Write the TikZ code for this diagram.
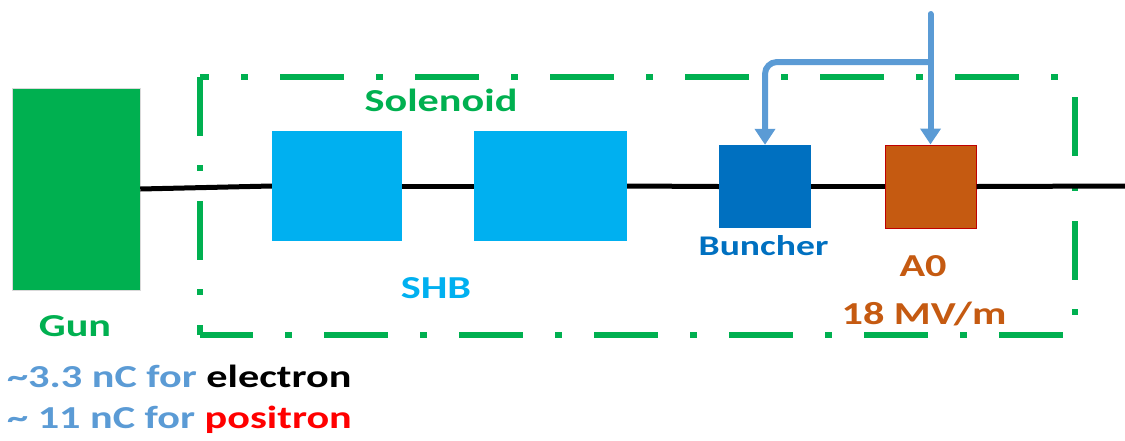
\documentclass[tikz,border=0pt]{standalone}
\usepackage{fontspec}
\setmainfont{Carlito}[FakeStretch=1.32]
\usetikzlibrary{arrows.meta,positioning}
\definecolor{gungreen}{RGB}{0,176,80}
\definecolor{shbblue}{RGB}{0,176,240}
\definecolor{bunblue}{RGB}{0,112,192}
\definecolor{aorange}{RGB}{197,90,17}
\definecolor{adark}{RGB}{192,0,0}
\definecolor{rfblue}{RGB}{91,155,213}
\definecolor{posred}{RGB}{255,0,0}

\tikzset{
  cavity/.style={draw=none,minimum width=#1,inner sep=0pt},
  lbl/.style={font=\fontsize{32}{36}\selectfont\bfseries},
  beam/.style={black,line width=5pt},
  hdash/.style={gungreen,line width=6pt,dash pattern=on 64pt off 32pt on 7pt off 32pt,dash phase=#1},
  vdash/.style={gungreen,line width=6pt,dash pattern=on 59pt off 29pt on 6pt off 30pt,dash phase=#1},
  feed/.style={rfblue,line width=6pt,line cap=round,-{Triangle[width=20pt,length=16pt]}}
}

\begin{document}
\begin{tikzpicture}[x=1pt,y=-1pt]
  \useasboundingbox (0,0) rectangle (1125,440);

  % solenoid region, one edge at a time
  \coordinate (tl) at (200,77);
  \coordinate (tr) at (1075,77);
  \coordinate (bl) at (200,335);
  \coordinate (br) at (1075,335);
  \draw[hdash=55pt] (tl) -- (tr);
  \draw[hdash=11pt] (bl) -- (br);
  \draw[vdash=0pt] (tl) -- (bl);
  \draw[vdash=104pt] (tr) -- (br);

  % beam line elements
  \node[cavity=128pt,minimum height=202pt,fill=gungreen,draw=gray!30,line width=0.5pt] (gun) at (76,189) {};
  \node[cavity=130pt,minimum height=110pt,fill=shbblue] (shb1) at (337,186) {};
  \node[cavity=153pt,minimum height=110pt,fill=shbblue] (shb2) at (550.5,186) {};
  \node[cavity=92pt,minimum height=83pt,fill=bunblue] (buncher) at (765,186.5) {};
  \node[cavity=91pt,minimum height=83pt,fill=aorange,draw=adark,line width=1pt] (a0) at (930.5,186.5) {};
  \coordinate (out) at (1125,186);

  \draw[beam] (gun.east) -- (shb1.west);
  \draw[beam] (shb1.east) -- (shb2.west);
  \draw[beam] (shb2.east) -- (buncher.west);
  \draw[beam] (buncher.east) -- (a0.west);
  \draw[beam] (a0.east) -- (out);

  % rf feed
  \coordinate (rf) at (930.5,14);
  \coordinate (split) at (930.5,62);
  \draw[feed] (rf) -- (a0.north);
  \draw[feed,line cap=butt,rounded corners=12pt] (split) -| (buncher.north);

  % labels
  \node[lbl,text=gungreen] (gunlbl) at (75,326) {Gun};
  \node[lbl,text=gungreen] (sollbl) at (441,100) {Solenoid};
  \node[lbl,text=shbblue] (shblbl) at (436,288) {SHB};
  \node[lbl,text=bunblue,font=\fontsize{28.5}{32}\selectfont\bfseries] (bunlbl) at (763.5,246) {Buncher};
  \node[lbl,text=aorange] (a0lbl) at (923,266) {A0};
  \node[lbl,text=aorange] (gradlbl) at (924,314) {18 MV/m};

  \node[lbl,anchor=west,inner sep=0pt] (elec) at (7,376)
    {\textcolor{rfblue}{\textasciitilde3.3 nC for }electron};
  \node[lbl,anchor=west,inner sep=0pt] (posi) at (7,420)
    {\textcolor{rfblue}{\textasciitilde\ 11 nC for }\textcolor{posred}{positron}};
\end{tikzpicture}
\end{document}
